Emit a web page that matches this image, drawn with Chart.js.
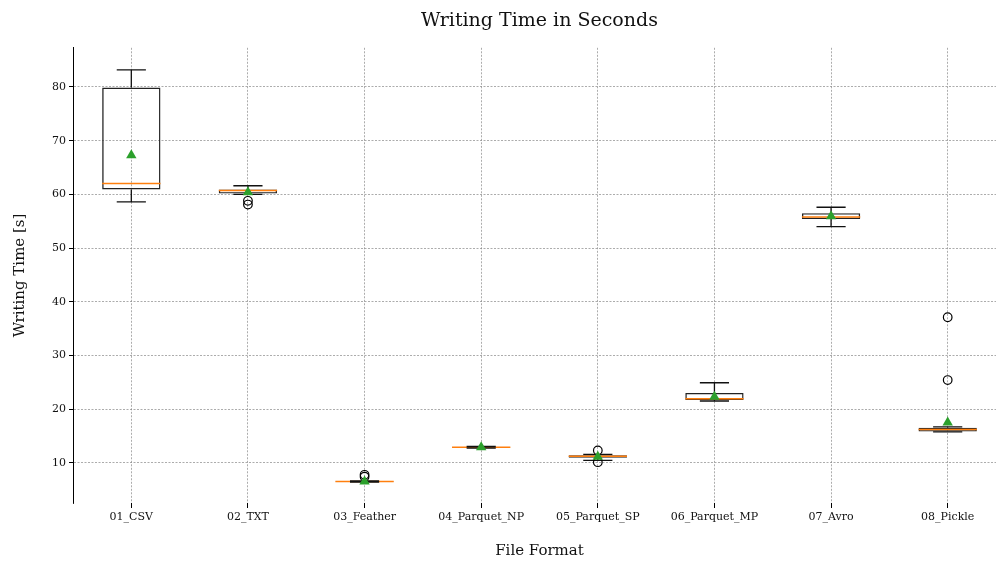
<!DOCTYPE html>
<html>
<head>
<meta charset="utf-8">
<script src="https://cdn.jsdelivr.net/npm/chart.js@4.4.1/dist/chart.umd.min.js"></script>
<style>
  html, body { margin: 0; padding: 0; background: #fff; overflow: hidden; }
  #wrap { width: 1012px; height: 563px; }
</style>
</head>
<body>
<div id="wrap"><canvas id="c" width="1012" height="563"></canvas></div>
<script>
const categories = ['01_CSV','02_TXT','03_Feather','04_Parquet_NP','05_Parquet_SP','06_Parquet_MP','07_Avro','08_Pickle'];
const q1Values = [60.9, 60.15, 6.45, 12.85, 10.95, 21.7, 55.4, 15.8];
const q3Values = [79.9, 60.9, 6.55, 12.95, 11.4, 23.0, 56.5, 16.5];
const medianValues = [62.0, 60.7, 6.5, 12.9, 11.2, 21.9, 55.8, 16.2];
const whiskerLowValues = [58.6, 60.0, 6.4, 12.75, 10.45, 21.5, 54.0, 15.75];
const whiskerHighValues = [83.2, 61.6, 6.6, 13.05, 11.55, 24.9, 57.6, 16.7];
const meanValues = [67.3, 60.4, 6.5, 12.9, 11.1, 22.3, 55.9, 17.5];
const outlierCategories = ['02_TXT','02_TXT','03_Feather','03_Feather','05_Parquet_SP','05_Parquet_SP','08_Pickle','08_Pickle'];
const outlierValues = [58.8, 58.1, 7.75, 7.4, 12.3, 10.1, 37.1, 25.4];
const yTickValues = [10, 20, 30, 40, 50, 60, 70, 80];

const SERIF = "'DejaVu Serif', 'Liberation Serif', serif";

const boxExtras = {
  id: 'boxExtras',
  afterDatasetDraw(chart, args) {
    if (args.index !== 0) return;
    const ctx = chart.ctx;
    const xs = chart.scales.x, ys = chart.scales.y;
    const meta = args.meta;
    ctx.save();
    categories.forEach((c, i) => {
      const bar = meta.data[i];
      const x = xs.getPixelForValue(i);
      const hw = bar.width / 2;
      // median
      ctx.strokeStyle = '#ff7f0e';
      ctx.lineWidth = 1.5;
      ctx.beginPath();
      const ym = ys.getPixelForValue(medianValues[i]);
      ctx.moveTo(x - hw, ym); ctx.lineTo(x + hw, ym); ctx.stroke();
      // whiskers & caps
      ctx.strokeStyle = '#111';
      ctx.lineWidth = 1.3;
      const yq1 = ys.getPixelForValue(q1Values[i]);
      const yq3 = ys.getPixelForValue(q3Values[i]);
      const ylo = ys.getPixelForValue(whiskerLowValues[i]);
      const yhi = ys.getPixelForValue(whiskerHighValues[i]);
      ctx.beginPath();
      ctx.moveTo(x, yq3); ctx.lineTo(x, yhi);
      ctx.moveTo(x, yq1); ctx.lineTo(x, ylo);
      ctx.moveTo(x - hw / 2, yhi); ctx.lineTo(x + hw / 2, yhi);
      ctx.moveTo(x - hw / 2, ylo); ctx.lineTo(x + hw / 2, ylo);
      ctx.stroke();
    });
    ctx.restore();
  }
};

new Chart(document.getElementById('c'), {
  type: 'bar',
  data: {
    labels: categories,
    datasets: [
      {
        label: 'box',
        data: categories.map((c, i) => [q1Values[i], q3Values[i]]),
        backgroundColor: 'rgba(0,0,0,0)',
        borderColor: '#222',
        borderWidth: 1.4,
        borderSkipped: false,
        barPercentage: 0.5,
        categoryPercentage: 1.0,
        grouped: false,
        order: 3
      },
      {
        type: 'line',
        label: 'outliers',
        data: outlierCategories.map((c, i) => ({ x: c, y: outlierValues[i] })),
        showLine: false,
        pointStyle: 'circle',
        pointRadius: 4.3,
        pointBorderWidth: 1.2,
        pointBackgroundColor: 'rgba(0,0,0,0)',
        pointBorderColor: '#000',
        order: 2
      },
      {
        type: 'line',
        label: 'mean',
        data: meanValues,
        showLine: false,
        pointStyle: 'triangle',
        pointRadius: 6,
        pointBorderWidth: 0,
        pointBackgroundColor: '#2ca02c',
        pointBorderColor: '#2ca02c',
        order: 1
      }
    ]
  },
  options: {
    responsive: false,
    animation: false,
    devicePixelRatio: 1,
    layout: { padding: { left: 0, right: 4, top: 0, bottom: 0 } },
    plugins: {
      legend: { display: false },
      tooltip: { enabled: false },
      title: {
        display: true,
        text: 'Writing Time in Seconds',
        fullSize: false,
        color: '#111',
        font: { family: SERIF, size: 19, weight: 'normal' },
        padding: { top: 10, bottom: 15 }
      }
    },
    scales: {
      x: {
        type: 'category',
        offset: true,
        grid: {
          offset: false,
          color: '#888',
          lineWidth: 0.7,
          drawTicks: true,
          tickLength: 5,
          tickColor: '#000',
          tickWidth: 1
        },
        border: { display: false, dash: [2, 1.5] },
        ticks: {
          color: '#111',
          padding: 3,
          maxRotation: 0,
          autoSkip: false,
          font: { family: SERIF, size: 11 }
        },
        title: {
          display: true,
          text: 'File Format',
          color: '#111',
          font: { family: SERIF, size: 15 },
          padding: { top: 0, bottom: 3 }
        },
        afterFit(scale) { scale.height = 60; }
      },
      y: {
        type: 'linear',
        min: 2.5,
        max: 87.3,
        afterBuildTicks(scale) { scale.ticks = yTickValues.map(v => ({ value: v })); },
        grid: {
          color: '#888',
          lineWidth: 0.7,
          drawTicks: true,
          tickLength: 4,
          tickColor: '#000',
          tickWidth: 1
        },
        border: { display: true, color: '#000', width: 1, dash: [2, 1.5] },
        ticks: {
          color: '#111',
          padding: 3,
          font: { family: SERIF, size: 11 }
        },
        title: {
          display: true,
          text: 'Writing Time [s]',
          color: '#111',
          font: { family: SERIF, size: 15 },
          padding: { top: 11, bottom: 0 }
        },
        afterFit(scale) { scale.width = 73; }
      }
    }
  },
  plugins: [boxExtras]
});
</script>
</body>
</html>
